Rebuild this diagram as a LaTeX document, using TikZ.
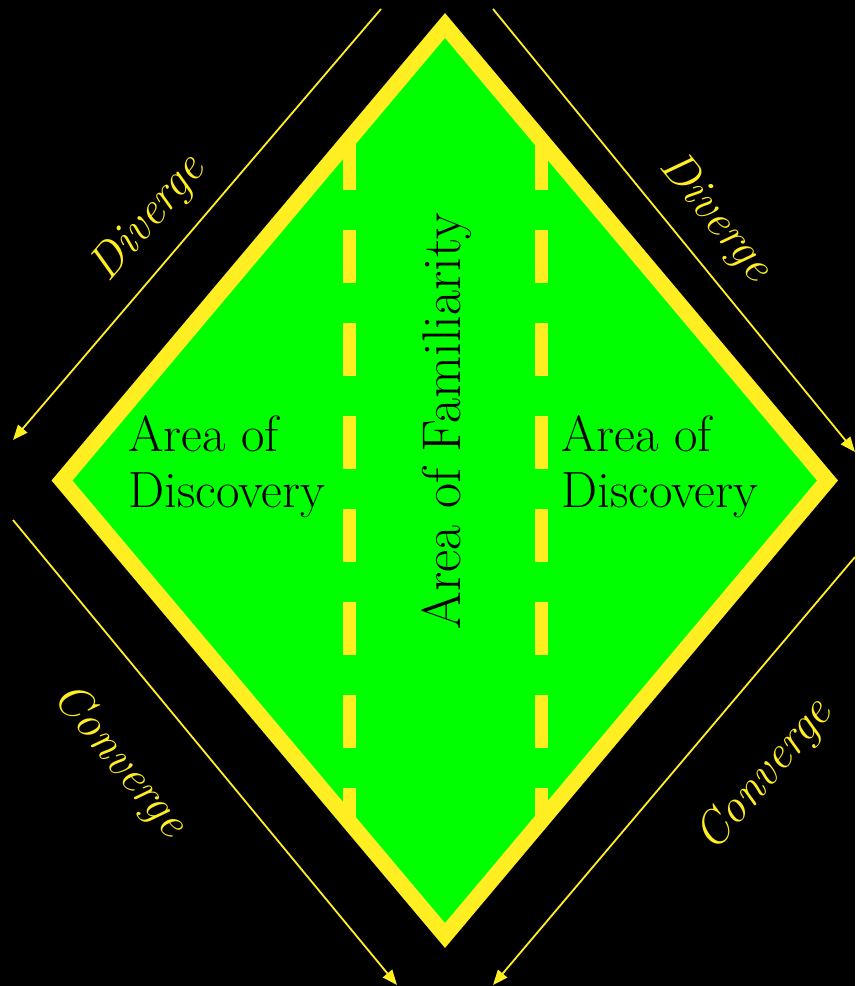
\documentclass[tikz,border=0pt]{standalone}
\usepackage{fontspec}
\usetikzlibrary{arrows.meta}
\definecolor{yel}{RGB}{255,238,34}
\definecolor{grn}{RGB}{0,255,0}
\begin{document}
\begin{tikzpicture}[x=1pt,y=-1pt,
  arr/.style={draw=yel, line width=1.8pt, -{Triangle[length=15pt,width=12pt]}},
  lab/.style={text=yel, font=\fontsize{47}{56}\selectfont\itshape, inner sep=0pt},
  area/.style={text=black, font=\fontsize{51}{58}\selectfont, inner sep=0pt, anchor=base west},
  dashline/.style={draw=yel, line width=13pt, dash pattern=on 53pt off 40pt},
  rim/.style={draw=yel, line width=16pt, line join=miter}]
  % background and bounding box
  \fill[black] (0,0) rectangle (855,986);
  \useasboundingbox (0,0) rectangle (855,986);
  % diamond corners
  \coordinate (top) at (445,25.5);
  \coordinate (right) at (827.5,480.5);
  \coordinate (bottom) at (445,935.5);
  \coordinate (left) at (62,480.5);
  \fill[grn] (top) -- (right) -- (bottom) -- (left) -- cycle;
  % dashed separators
  \coordinate (d1a) at (349,137);
  \coordinate (d1b) at (349,822);
  \coordinate (d2a) at (541,137);
  \coordinate (d2b) at (541,822);
  \draw[dashline] (d1a) -- (d1b);
  \draw[dashline] (d2a) -- (d2b);
  % rim
  \draw[rim] (top) -- (right) -- (bottom) -- (left) -- cycle;
  % texts
  \node[area] (l1) at (128,451) {Area of};
  \node[area] (l2) at (128,507) {Discovery};
  \node[area] (r1) at (561,451) {Area of};
  \node[area] (r2) at (561,507) {Discovery};
  \node[text=black, font=\fontsize{54.5}{62}\selectfont, inner sep=0pt, anchor=base, rotate=90] (fam) at (460,421.5) {Area of Familiarity};
  % arrows
  \coordinate (a1s) at (381,9);   \coordinate (a1e) at (13,440);
  \coordinate (a2s) at (493,9);   \coordinate (a2e) at (855,452);
  \coordinate (a3s) at (13,520);  \coordinate (a3e) at (397,985);
  \coordinate (a4s) at (855,557); \coordinate (a4e) at (493,985);
  \draw[arr] (a1s) -- (a1e);
  \draw[arr] (a2s) -- (a2e);
  \draw[arr] (a3s) -- (a3e);
  \draw[arr] (a4s) -- (a4e);
  % arrow labels
  \node[lab, rotate=49.5] (dv1) at (149,219) {Diverge};
  \node[lab, rotate=-50.7] (dv2) at (715,218) {Diverge};
  \node[lab, rotate=-50.4] (cv1) at (119,761) {Converge};
  \node[lab, rotate=49.8] (cv2) at (765,776) {Converge};
\end{tikzpicture}
\end{document}
